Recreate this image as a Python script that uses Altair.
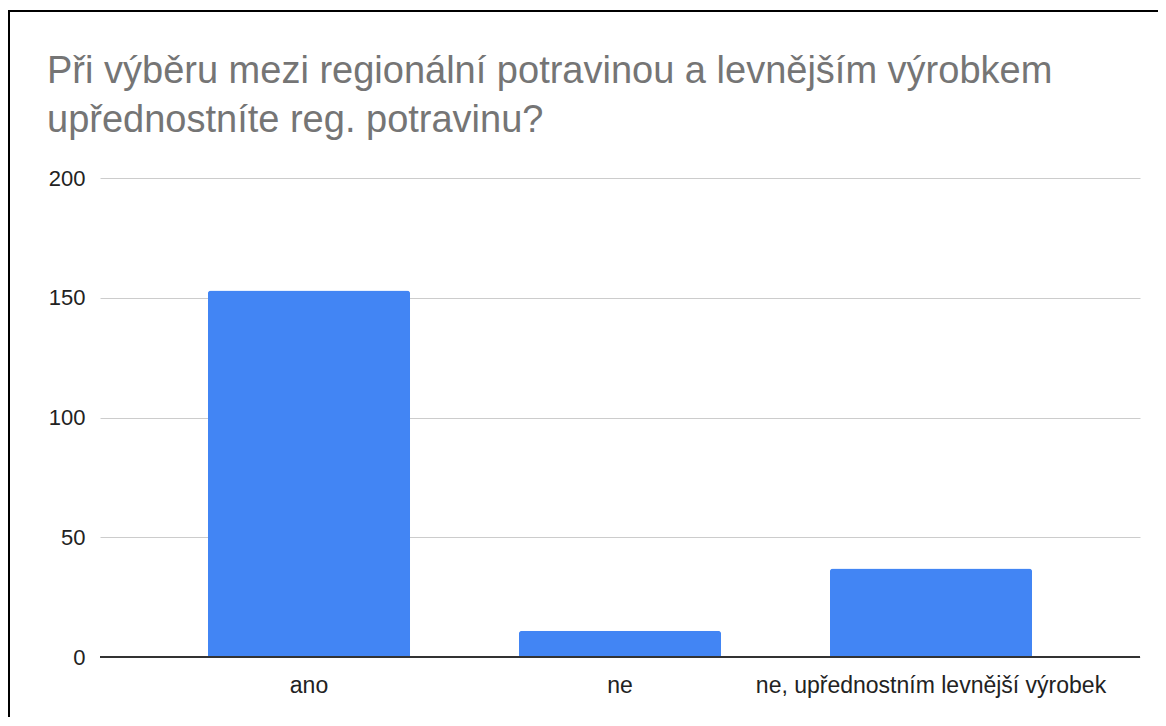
import altair as alt
import pandas as pd

categories = ["ano", "ne", "ne, upřednostním levnější výrobek"]
counts = [153, 11, 37]
y_ticks = [0, 50, 100, 150, 200]
title_lines = ["Při výběru mezi regionální potravinou a levnějším výrobkem",
               "upřednostníte reg. potravinu?"]

df = pd.DataFrame({"odpoved": categories, "pocet": counts})
FONT = "Liberation Sans"

bars = alt.Chart(df).mark_bar(color="#4285f4", cornerRadiusTopLeft=3, cornerRadiusTopRight=3).encode(
    x=alt.X("odpoved:N", sort=categories, title=None,
            scale=alt.Scale(paddingInner=0.35, paddingOuter=0.347),
            axis=alt.Axis(labelAngle=0, labelFont=FONT, labelFontSize=23, labelColor="#222222",
                          labelPadding=17, labelLimit=0, ticks=False, domain=False, grid=False)),
    y=alt.Y("pocet:Q", title=None,
            scale=alt.Scale(domain=[0, 200]),
            axis=alt.Axis(values=y_ticks, labelFont=FONT, labelFontSize=22, labelColor="#222222",
                          labelPadding=15, ticks=False, domain=False, gridColor="#cccccc",
                          gridWidth=1)),
)

zero = alt.Chart(pd.DataFrame({"z": [0]})).mark_rule(color="#333333", strokeWidth=2).encode(
    y="z:Q"
)

frame_top = alt.Chart(pd.DataFrame({"a": [0]})).mark_rule(color="#000000", strokeWidth=2).encode(
    x=alt.value(-92), x2=alt.value(1060), y=alt.value(-167)
)
frame_left = alt.Chart(pd.DataFrame({"a": [0]})).mark_rule(color="#000000", strokeWidth=2).encode(
    x=alt.value(-91), y=alt.value(-168), y2=alt.value(575)
)

chart = alt.layer(bars, zero, frame_top, frame_left).properties(
    width=1040, height=479,
    title=alt.TitleParams(title_lines, anchor="start", dx=40, font=FONT, fontSize=38,
                          fontWeight="normal", color="#757575", lineHeight=49,
                          baseline="alphabetic", offset=-161),
    autosize=alt.AutoSizeParams(type="none"),
    padding={"left": 92, "top": 170, "right": 18, "bottom": 60},
).configure_view(stroke=None)

chart.save("out.html", embed_options={"renderer": "svg", "actions": False})
